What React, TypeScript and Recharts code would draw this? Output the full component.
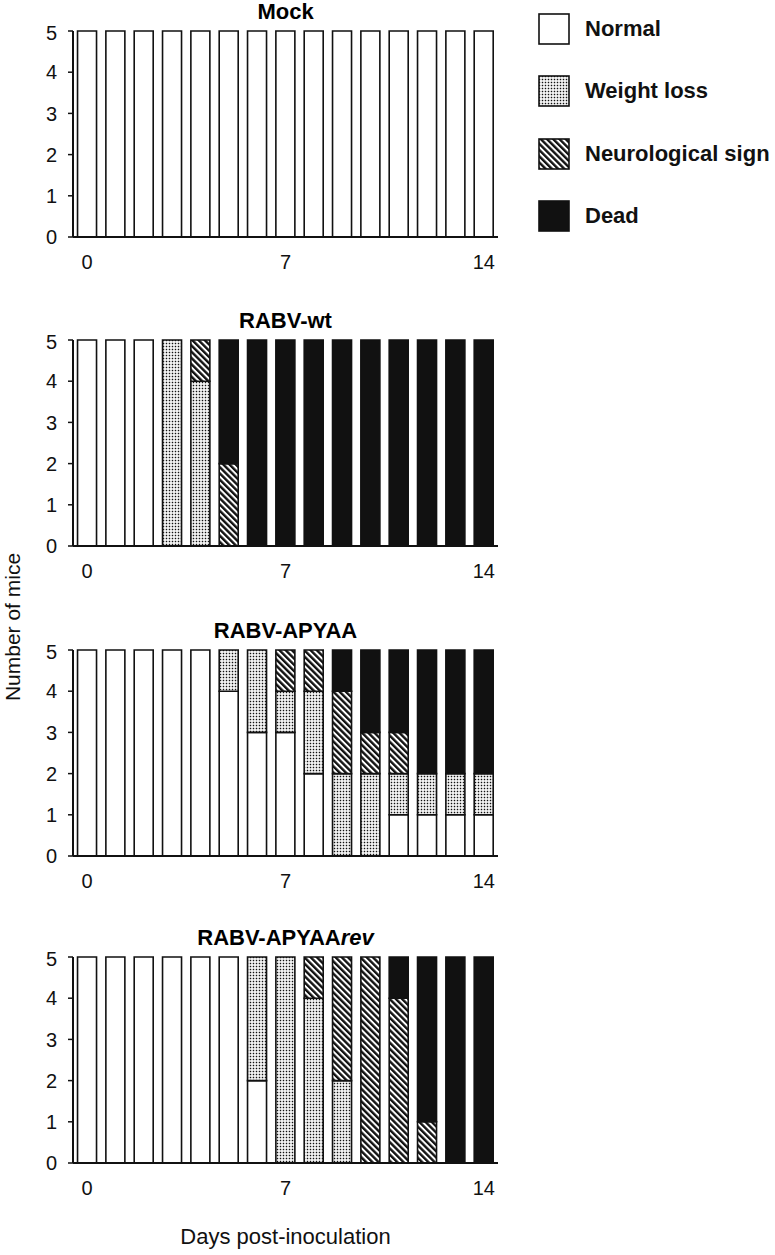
import React from "react";
import { BarChart, Bar, XAxis, YAxis } from "recharts";

const days = [0, 1, 2, 3, 4, 5, 6, 7, 8, 9, 10, 11, 12, 13, 14];
const xTickLabels = ["0", "7", "14"];
const yTicks = [0, 1, 2, 3, 4, 5];
const legendNames = ["Normal", "Weight loss", "Neurological sign", "Dead"];

const mockNormal = [5, 5, 5, 5, 5, 5, 5, 5, 5, 5, 5, 5, 5, 5, 5];
const mockWeight = [0, 0, 0, 0, 0, 0, 0, 0, 0, 0, 0, 0, 0, 0, 0];
const mockNeuro = [0, 0, 0, 0, 0, 0, 0, 0, 0, 0, 0, 0, 0, 0, 0];
const mockDead = [0, 0, 0, 0, 0, 0, 0, 0, 0, 0, 0, 0, 0, 0, 0];

const wtNormal = [5, 5, 5, 0, 0, 0, 0, 0, 0, 0, 0, 0, 0, 0, 0];
const wtWeight = [0, 0, 0, 5, 4, 0, 0, 0, 0, 0, 0, 0, 0, 0, 0];
const wtNeuro = [0, 0, 0, 0, 1, 2, 0, 0, 0, 0, 0, 0, 0, 0, 0];
const wtDead = [0, 0, 0, 0, 0, 3, 5, 5, 5, 5, 5, 5, 5, 5, 5];

const apyaaNormal = [5, 5, 5, 5, 5, 4, 3, 3, 2, 0, 0, 1, 1, 1, 1];
const apyaaWeight = [0, 0, 0, 0, 0, 1, 2, 1, 2, 2, 2, 1, 1, 1, 1];
const apyaaNeuro = [0, 0, 0, 0, 0, 0, 0, 1, 1, 2, 1, 1, 0, 0, 0];
const apyaaDead = [0, 0, 0, 0, 0, 0, 0, 0, 0, 1, 2, 2, 3, 3, 3];

const revNormal = [5, 5, 5, 5, 5, 5, 2, 0, 0, 0, 0, 0, 0, 0, 0];
const revWeight = [0, 0, 0, 0, 0, 0, 3, 5, 4, 2, 0, 0, 0, 0, 0];
const revNeuro = [0, 0, 0, 0, 0, 0, 0, 0, 1, 3, 5, 4, 1, 0, 0];
const revDead = [0, 0, 0, 0, 0, 0, 0, 0, 0, 0, 0, 1, 4, 5, 5];

const FONT = "'Liberation Sans', Arial, sans-serif";
const DEAD = "#111111";

function Patterns({ id }: { id: string }) {
  return (
    <defs>
      <pattern id={`${id}-dots`} patternUnits="userSpaceOnUse" width="3" height="3">
        <rect width="3" height="3" fill="#fff" />
        <rect x="0.75" y="0.75" width="1.5" height="1.5" fill="#111" />
      </pattern>
      <pattern
        id={`${id}-stripes`}
        patternUnits="userSpaceOnUse"
        width="4.4"
        height="4.4"
        patternTransform="rotate(-45)"
      >
        <rect width="4.4" height="4.4" fill="#fff" />
        <rect width="2.4" height="4.4" fill="#111" />
      </pattern>
    </defs>
  );
}

function Panel({
  id,
  title,
  top,
  normal,
  weight,
  neuro,
  dead,
}: {
  id: string;
  title: React.ReactNode;
  top: number;
  normal: number[];
  weight: number[];
  neuro: number[];
  dead: number[];
}) {
  const data = days.map((d, i) => ({
    day: String(d),
    normal: normal[i],
    weight: weight[i],
    neuro: neuro[i],
    dead: dead[i],
  }));

  return (
    <>
      <div
        style={{
          position: "absolute",
          left: 73,
          width: 425,
          top: top - 30,
          textAlign: "center",
          fontFamily: FONT,
          fontWeight: "bold",
          fontSize: 22,
          lineHeight: "22px",
        }}
      >
        {title}
      </div>
      <div style={{ position: "absolute", left: 0, top: top - 10 }}>
        <BarChart
          width={520}
          height={256}
          data={data}
          margin={{ top: 10, right: 22, left: 0, bottom: 0 }}
          barCategoryGap="16%"
        >
          <Patterns id={id} />
          <XAxis
            dataKey="day"
            interval={0}
            tickLine={false}
            tickSize={16}
            height={40}
            axisLine={{ stroke: "#111", strokeWidth: 2 }}
            tick={{ fill: "#111", fontSize: 20, fontFamily: FONT }}
            tickFormatter={(v: string) => (xTickLabels.includes(v) ? v : "")}
          />
          <YAxis
            type="number"
            domain={[0, 5]}
            ticks={yTicks}
            width={73}
            tickSize={5}
            tickMargin={11}
            axisLine={{ stroke: "#111", strokeWidth: 2 }}
            tickLine={{ stroke: "#111", strokeWidth: 1.5 }}
            tick={{ fill: "#111", fontSize: 20, fontFamily: FONT }}
          />
          <Bar dataKey="normal" stackId="a" fill="#fff" stroke="#111" strokeWidth={1.6} isAnimationActive={false} />
          <Bar dataKey="weight" stackId="a" fill={`url(#${id}-dots)`} stroke="#111" strokeWidth={1.6} isAnimationActive={false} />
          <Bar dataKey="neuro" stackId="a" fill={`url(#${id}-stripes)`} stroke="#111" strokeWidth={1.6} isAnimationActive={false} />
          <Bar dataKey="dead" stackId="a" fill={DEAD} stroke="#111" strokeWidth={1.6} isAnimationActive={false} />
        </BarChart>
      </div>
    </>
  );
}

function LegendBox() {
  const fills = ["#fff", "url(#lg-dots)", "url(#lg-stripes)", DEAD];
  const centers = [29, 91, 154, 216];
  return (
    <>
      {legendNames.map((name, i) => (
        <div
          key={name}
          style={{
            position: "absolute",
            left: 538,
            top: centers[i] - 16,
            display: "flex",
            alignItems: "center",
            height: 32,
            whiteSpace: "nowrap",
          }}
        >
          <svg width={32} height={32}>
            {i === 0 && <Patterns id="lg" />}
            <rect x={1} y={1} width={30} height={30} fill={fills[i]} stroke="#111" strokeWidth={1.6} />
          </svg>
          <span
            style={{
              marginLeft: 15,
              fontFamily: FONT,
              fontWeight: "bold",
              fontSize: 22,
              color: "#111",
            }}
          >
            {name}
          </span>
        </div>
      ))}
    </>
  );
}

export default function App() {
  return (
    <div
      style={{
        position: "absolute",
        left: 0,
        top: 0,
        width: 775,
        height: 1255,
        background: "#fff",
        overflow: "hidden",
      }}
    >
      <Panel id="mock" title="Mock" top={31} normal={mockNormal} weight={mockWeight} neuro={mockNeuro} dead={mockDead} />
      <Panel id="wt" title="RABV-wt" top={340} normal={wtNormal} weight={wtWeight} neuro={wtNeuro} dead={wtDead} />
      <Panel id="apyaa" title="RABV-APYAA" top={650} normal={apyaaNormal} weight={apyaaWeight} neuro={apyaaNeuro} dead={apyaaDead} />
      <Panel
        id="rev"
        title={
          <>
            RABV-APYAA<i>rev</i>
          </>
        }
        top={957}
        normal={revNormal}
        weight={revWeight}
        neuro={revNeuro}
        dead={revDead}
      />
      <LegendBox />
      <div
        style={{
          position: "absolute",
          left: 12,
          top: 627,
          transform: "translate(-50%, -50%) rotate(-90deg)",
          fontFamily: FONT,
          fontSize: 21,
          lineHeight: "21px",
          color: "#111",
          whiteSpace: "nowrap",
        }}
      >
        Number of mice
      </div>
      <div
        style={{
          position: "absolute",
          left: 73,
          width: 425,
          top: 1226,
          textAlign: "center",
          fontFamily: FONT,
          fontSize: 22,
          lineHeight: "22px",
          color: "#111",
        }}
      >
        Days post-inoculation
      </div>
    </div>
  );
}
